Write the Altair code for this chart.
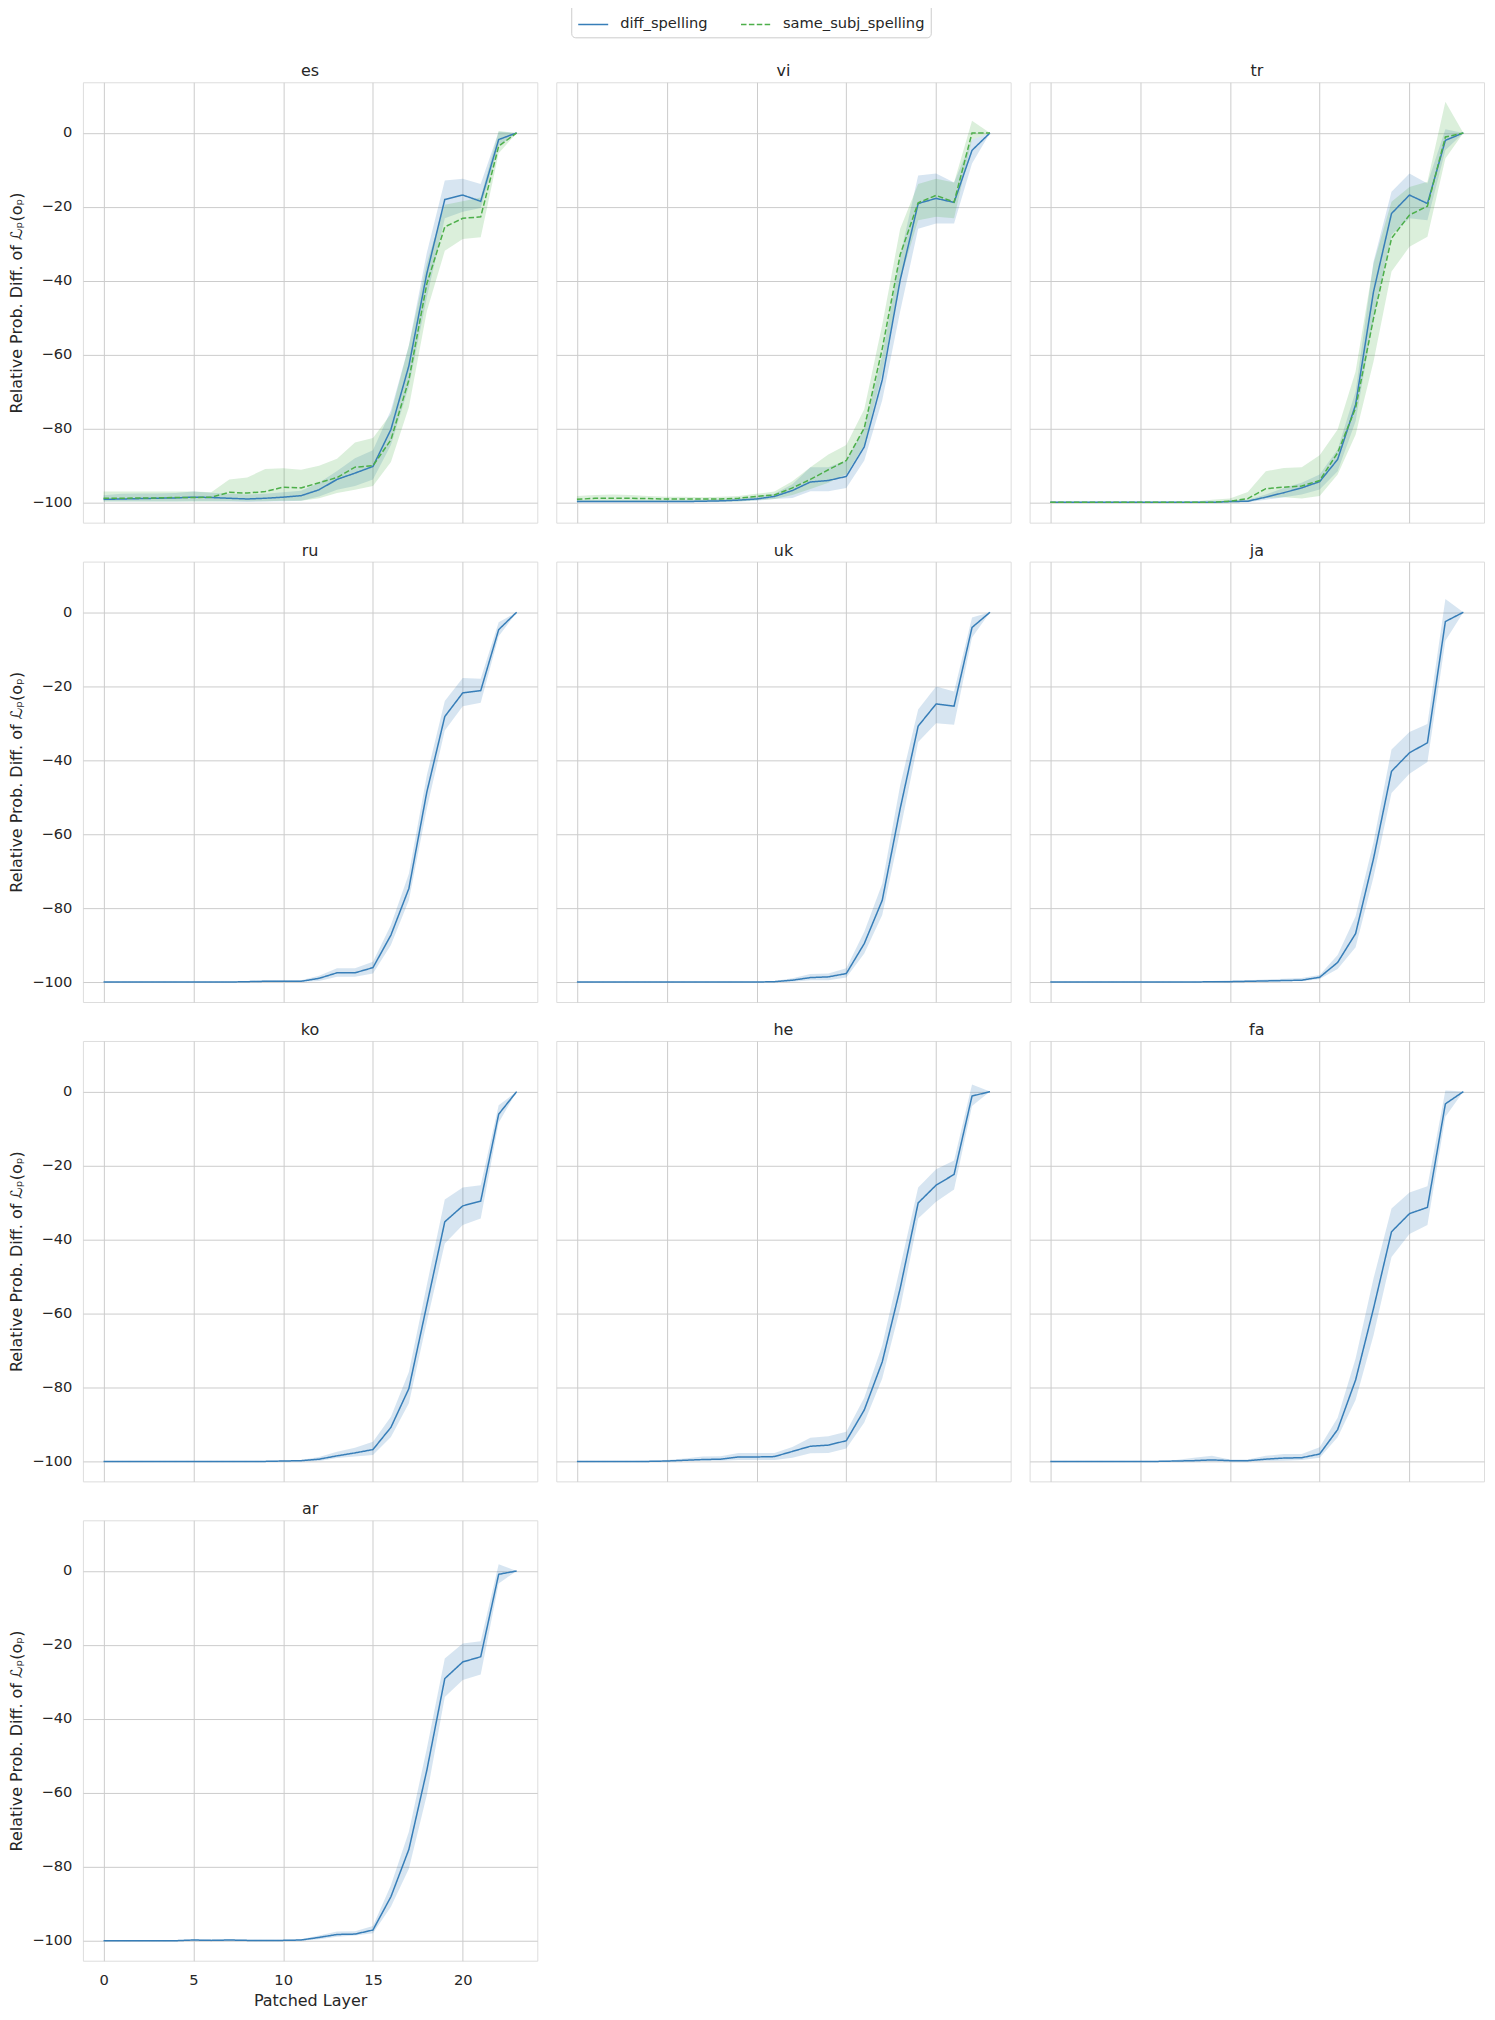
import altair as alt
import pandas as pd

LAYERS = list(range(24))
LANGS = ["es", "vi", "tr", "ru", "uk", "ja", "ko", "he", "fa", "ar"]
SERIES = ["diff_spelling", "same_subj_spelling"]
COLORS = ["#377eb8", "#4daf4a"]

# ---- es ----
ES_DIFF_MEAN = [-99.1, -99.0, -98.9, -98.8, -98.7, -98.5, -98.6, -98.8, -99.0, -98.8, -98.5, -98.1, -96.5, -93.7, -92.0, -90.2, -80.2, -63.0, -38.0, -18.0, -16.8, -18.5, -1.8, 0.0]
ES_DIFF_HI = [-98.0, -97.6, -97.5, -97.5, -97.4, -97.0, -97.3, -97.6, -97.8, -97.6, -97.2, -96.8, -94.6, -91.4, -88.0, -85.8, -75.0, -57.5, -32.4, -12.9, -12.4, -13.8, 0.3, 0.0]
ES_DIFF_LO = [-99.7, -99.7, -99.7, -99.7, -99.7, -99.6, -99.6, -99.7, -99.8, -99.7, -99.6, -99.5, -98.3, -96.5, -95.5, -93.7, -84.4, -68.6, -44.5, -23.1, -21.3, -20.3, -3.6, 0.0]
ES_SAME_MEAN = [-98.8, -98.8, -98.7, -98.7, -98.6, -98.6, -98.5, -97.2, -97.4, -97.0, -95.8, -96.0, -94.6, -93.2, -90.4, -90.0, -83.0, -66.8, -40.8, -25.4, -23.1, -22.7, -3.6, 0.0]
ES_SAME_HI = [-97.0, -97.0, -97.0, -97.0, -97.0, -97.0, -97.2, -93.7, -93.2, -90.9, -90.7, -91.1, -90.0, -88.1, -83.7, -82.5, -76.0, -57.5, -35.2, -19.4, -18.5, -17.5, 0.5, 0.0]
ES_SAME_LO = [-99.7, -99.7, -99.7, -99.7, -99.7, -99.7, -99.7, -99.6, -99.6, -99.6, -99.5, -99.5, -98.8, -97.4, -96.5, -95.5, -89.0, -74.2, -48.2, -31.9, -28.7, -28.2, -5.5, 0.0]

# ---- vi ----
VI_DIFF_MEAN = [-99.7, -99.7, -99.7, -99.7, -99.7, -99.7, -99.7, -99.6, -99.5, -99.3, -99.0, -98.3, -96.7, -94.4, -94.0, -92.9, -84.9, -66.8, -39.8, -19.1, -17.7, -18.8, -4.7, 0.0]
VI_DIFF_HI = [-99.3, -99.3, -99.3, -99.3, -99.3, -99.3, -99.3, -99.2, -99.0, -98.8, -98.3, -97.6, -95.0, -90.4, -90.4, -88.6, -79.8, -60.3, -33.3, -11.5, -11.0, -13.4, -1.8, 0.0]
VI_DIFF_LO = [-99.9, -99.9, -99.9, -99.9, -99.9, -99.9, -99.9, -99.9, -99.8, -99.7, -99.5, -99.0, -98.7, -96.9, -96.9, -96.0, -88.6, -72.3, -48.2, -25.9, -24.5, -24.5, -8.3, 0.0]
VI_SAME_MEAN = [-99.1, -98.8, -98.8, -98.8, -98.9, -99.0, -99.0, -99.0, -99.0, -98.8, -98.3, -97.9, -96.0, -93.7, -91.1, -88.6, -79.8, -58.4, -32.9, -18.9, -16.9, -18.7, 0.0, 0.0]
VI_SAME_HI = [-98.2, -97.9, -97.8, -97.9, -98.2, -98.4, -98.4, -98.5, -98.4, -98.2, -97.6, -97.0, -94.2, -90.4, -87.0, -84.4, -74.7, -51.9, -25.9, -13.8, -12.4, -13.4, 3.3, 0.0]
VI_SAME_LO = [-99.9, -99.7, -99.7, -99.7, -99.7, -99.7, -99.7, -99.7, -99.7, -99.7, -99.3, -99.0, -97.9, -96.3, -94.6, -92.3, -84.4, -64.9, -39.8, -23.6, -22.7, -23.1, -1.8, 0.0]

# ---- tr ----
TR_DIFF_MEAN = [-99.9, -99.9, -99.9, -99.9, -99.9, -99.9, -99.9, -99.9, -99.9, -99.9, -99.7, -99.6, -98.5, -97.3, -96.0, -94.3, -88.3, -73.5, -42.9, -21.8, -16.8, -19.1, -2.0, 0.0]
TR_DIFF_HI = [-99.8, -99.8, -99.8, -99.8, -99.8, -99.8, -99.8, -99.8, -99.8, -99.8, -99.4, -99.2, -97.8, -96.0, -94.6, -92.4, -85.6, -69.9, -34.8, -15.9, -11.0, -13.7, 1.0, 0.0]
TR_DIFF_LO = [-100.0, -100.0, -100.0, -100.0, -100.0, -100.0, -100.0, -100.0, -100.0, -100.0, -99.9, -99.9, -99.2, -98.5, -97.8, -96.4, -91.5, -78.0, -50.1, -27.6, -23.1, -23.6, -4.7, 0.0]
TR_SAME_MEAN = [-99.9, -99.9, -99.9, -99.9, -99.9, -99.9, -99.9, -99.9, -99.9, -99.9, -99.6, -98.9, -96.2, -95.8, -95.5, -94.0, -86.5, -74.4, -50.1, -28.5, -22.2, -19.8, -1.1, 0.0]
TR_SAME_HI = [-99.7, -99.7, -99.7, -99.7, -99.7, -99.7, -99.7, -99.7, -99.7, -99.2, -98.9, -97.1, -91.5, -90.6, -90.4, -87.2, -80.2, -64.5, -35.3, -18.6, -14.6, -13.2, 8.4, 0.0]
TR_SAME_LO = [-100.0, -100.0, -100.0, -100.0, -100.0, -100.0, -100.0, -100.0, -100.0, -100.0, -100.0, -99.8, -98.7, -98.5, -98.9, -98.2, -92.4, -81.6, -61.8, -37.5, -30.8, -28.1, -6.9, 0.0]

# ---- ru ----
RU_DIFF_MEAN = [-100.0, -100.0, -100.0, -100.0, -100.0, -100.0, -100.0, -100.0, -99.9, -99.8, -99.8, -99.8, -99.0, -97.5, -97.5, -96.1, -87.3, -74.7, -48.6, -28.2, -21.8, -21.2, -4.7, 0.0]
RU_DIFF_HI = [-99.9, -99.9, -99.9, -99.9, -99.9, -99.9, -99.9, -99.9, -99.7, -99.5, -99.5, -99.5, -98.3, -96.3, -96.3, -94.5, -84.6, -70.7, -44.1, -24.0, -17.8, -18.0, -2.7, 0.0]
RU_DIFF_LO = [-100.0, -100.0, -100.0, -100.0, -100.0, -100.0, -100.0, -100.0, -100.0, -100.0, -100.0, -100.0, -99.7, -98.6, -98.6, -97.7, -90.0, -77.9, -53.1, -32.0, -25.4, -24.5, -6.5, 0.0]

# ---- uk ----
UK_DIFF_MEAN = [-100.0, -100.0, -100.0, -100.0, -100.0, -100.0, -100.0, -100.0, -100.0, -100.0, -100.0, -99.9, -99.5, -98.8, -98.6, -97.7, -89.6, -77.9, -53.1, -30.8, -24.8, -25.4, -4.1, 0.0]
UK_DIFF_HI = [-99.9, -99.9, -99.9, -99.9, -99.9, -99.9, -99.9, -99.9, -99.9, -99.9, -99.9, -99.7, -99.0, -97.8, -97.7, -96.3, -86.4, -73.4, -46.8, -26.3, -20.1, -21.4, -1.4, 0.0]
UK_DIFF_LO = [-100.0, -100.0, -100.0, -100.0, -100.0, -100.0, -100.0, -100.0, -100.0, -100.0, -100.0, -100.0, -99.9, -99.5, -99.5, -98.8, -92.3, -81.9, -59.0, -35.1, -30.0, -30.4, -6.8, 0.0]

# ---- ja ----
JA_DIFF_MEAN = [-100.0, -100.0, -100.0, -100.0, -100.0, -100.0, -100.0, -100.0, -100.0, -99.9, -99.9, -99.8, -99.7, -99.6, -99.5, -98.7, -94.7, -86.9, -66.6, -43.0, -38.0, -35.3, -2.5, 0.0]
JA_DIFF_HI = [-99.9, -99.9, -99.9, -99.9, -99.9, -99.9, -99.9, -99.9, -99.9, -99.7, -99.6, -99.5, -99.3, -99.1, -98.9, -98.1, -92.7, -82.2, -62.1, -37.1, -32.4, -30.2, 3.6, 0.0]
JA_DIFF_LO = [-100.0, -100.0, -100.0, -100.0, -100.0, -100.0, -100.0, -100.0, -100.0, -100.0, -100.0, -100.0, -99.9, -99.8, -99.8, -99.2, -96.5, -90.6, -71.6, -48.9, -43.7, -40.5, -7.7, 0.0]

# ---- ko ----
KO_DIFF_MEAN = [-100.0, -100.0, -100.0, -100.0, -100.0, -100.0, -100.0, -100.0, -100.0, -100.0, -99.9, -99.8, -99.4, -98.5, -97.7, -96.8, -90.8, -80.3, -57.7, -35.2, -30.9, -29.6, -6.1, 0.0]
KO_DIFF_HI = [-99.9, -99.9, -99.9, -99.9, -99.9, -99.9, -99.9, -99.9, -99.9, -99.9, -99.7, -99.6, -98.8, -97.4, -96.3, -94.7, -87.9, -75.8, -52.3, -29.2, -25.9, -25.3, -3.7, 0.0]
KO_DIFF_LO = [-100.0, -100.0, -100.0, -100.0, -100.0, -100.0, -100.0, -100.0, -100.0, -100.0, -100.0, -100.0, -99.9, -99.1, -98.7, -98.3, -93.4, -84.3, -62.3, -41.1, -36.1, -34.3, -8.4, 0.0]

# ---- he ----
HE_DIFF_MEAN = [-100.0, -100.0, -100.0, -100.0, -100.0, -99.9, -99.7, -99.5, -99.4, -98.8, -98.8, -98.7, -97.3, -95.9, -95.6, -94.4, -86.1, -73.1, -53.2, -30.1, -25.3, -22.4, -1.2, 0.0]
HE_DIFF_HI = [-99.9, -99.9, -99.9, -99.9, -99.8, -99.6, -99.2, -98.7, -98.6, -97.7, -97.7, -97.7, -96.1, -93.6, -93.2, -92.0, -82.8, -68.6, -47.4, -25.9, -21.0, -18.6, 1.9, 0.0]
HE_DIFF_LO = [-100.0, -100.0, -100.0, -100.0, -100.0, -100.0, -99.9, -99.8, -99.8, -99.6, -99.6, -99.6, -99.0, -97.8, -97.7, -96.5, -89.5, -77.6, -58.6, -34.3, -29.8, -26.5, -3.9, 0.0]

# ---- fa ----
FA_DIFF_MEAN = [-100.0, -100.0, -100.0, -100.0, -100.0, -100.0, -100.0, -99.9, -99.8, -99.6, -99.8, -99.8, -99.4, -99.1, -99.0, -98.0, -91.4, -78.0, -58.6, -37.9, -33.0, -31.3, -3.3, 0.0]
FA_DIFF_HI = [-99.9, -99.9, -99.9, -99.9, -99.9, -99.9, -99.9, -99.6, -99.0, -98.5, -99.5, -99.5, -98.5, -98.0, -98.0, -96.2, -88.2, -72.2, -50.5, -31.6, -27.3, -25.6, 0.3, 0.0]
FA_DIFF_LO = [-100.0, -100.0, -100.0, -100.0, -100.0, -100.0, -100.0, -100.0, -100.0, -100.0, -100.0, -100.0, -99.9, -99.8, -99.6, -99.0, -93.5, -83.4, -65.9, -44.7, -38.5, -36.1, -6.8, 0.0]

# ---- ar ----
AR_DIFF_MEAN = [-100.0, -100.0, -100.0, -100.0, -100.0, -99.8, -99.9, -99.8, -99.9, -99.9, -99.9, -99.8, -99.1, -98.3, -98.2, -97.1, -88.1, -75.3, -53.9, -29.1, -24.6, -23.2, -0.9, 0.0]
AR_DIFF_HI = [-99.9, -99.9, -99.9, -99.9, -99.9, -99.6, -99.7, -99.6, -99.7, -99.7, -99.7, -99.6, -98.6, -97.5, -97.4, -96.0, -85.0, -70.5, -48.0, -23.7, -19.6, -19.0, 1.8, 0.0]
AR_DIFF_LO = [-100.0, -100.0, -100.0, -100.0, -100.0, -100.0, -100.0, -100.0, -100.0, -100.0, -100.0, -100.0, -99.6, -98.9, -98.6, -98.0, -90.8, -80.5, -60.6, -34.1, -29.5, -28.0, -3.4, 0.0]

SERIES_DATA = {
    ("es", "diff_spelling"): (ES_DIFF_MEAN, ES_DIFF_LO, ES_DIFF_HI),
    ("es", "same_subj_spelling"): (ES_SAME_MEAN, ES_SAME_LO, ES_SAME_HI),
    ("vi", "diff_spelling"): (VI_DIFF_MEAN, VI_DIFF_LO, VI_DIFF_HI),
    ("vi", "same_subj_spelling"): (VI_SAME_MEAN, VI_SAME_LO, VI_SAME_HI),
    ("tr", "diff_spelling"): (TR_DIFF_MEAN, TR_DIFF_LO, TR_DIFF_HI),
    ("tr", "same_subj_spelling"): (TR_SAME_MEAN, TR_SAME_LO, TR_SAME_HI),
    ("ru", "diff_spelling"): (RU_DIFF_MEAN, RU_DIFF_LO, RU_DIFF_HI),
    ("uk", "diff_spelling"): (UK_DIFF_MEAN, UK_DIFF_LO, UK_DIFF_HI),
    ("ja", "diff_spelling"): (JA_DIFF_MEAN, JA_DIFF_LO, JA_DIFF_HI),
    ("ko", "diff_spelling"): (KO_DIFF_MEAN, KO_DIFF_LO, KO_DIFF_HI),
    ("he", "diff_spelling"): (HE_DIFF_MEAN, HE_DIFF_LO, HE_DIFF_HI),
    ("fa", "diff_spelling"): (FA_DIFF_MEAN, FA_DIFF_LO, FA_DIFF_HI),
    ("ar", "diff_spelling"): (AR_DIFF_MEAN, AR_DIFF_LO, AR_DIFF_HI),
}

rows = []
for (lang, series), (m, lo, hi) in SERIES_DATA.items():
    for i, layer in enumerate(LAYERS):
        rows.append({"lang": lang, "series": series, "layer": layer,
                     "mean": m[i], "lo": lo[i], "hi": hi[i]})
df = pd.DataFrame(rows)

FONT = "DejaVu Sans"
TXT = "#262626"
W, H = 455, 441
YTITLE = "Relative Prob. Diff. of ℒₚ(oₚ)"
TICK_FS = 14.67
TITLE_FS = 16

color_scale = alt.Scale(domain=SERIES, range=COLORS)
dash_scale = alt.Scale(domain=SERIES, range=[[1, 0], [5.5, 2.4]])
x_scale = alt.Scale(domain=[-1.15, 24.15], nice=False, zero=False)
y_scale = alt.Scale(domain=[-105.4, 13.7], nice=False, zero=False)

legend = alt.Legend(
    title=None, orient="none", legendX=15, legendY=-80, direction="horizontal",
    symbolType="stroke", symbolSize=900, symbolStrokeWidth=1.5,
    labelFont=FONT, labelFontSize=TICK_FS, labelColor=TXT, labelOffset=11,
    columnPadding=30, padding=6, strokeColor="#cccccc", cornerRadius=4,
    fillColor="white",
)


def panel(lang, first_col, last_row, with_legend):
    xaxis = alt.Axis(values=[0, 5, 10, 15, 20], labels=last_row, ticks=False, domain=False,
                     title="Patched Layer" if last_row else None,
                     labelFont=FONT, labelFontSize=TICK_FS, labelColor=TXT, labelPadding=12,
                     titleFont=FONT, titleFontSize=TITLE_FS, titleFontWeight="normal",
                     titleColor=TXT, titlePadding=5,
                     gridColor="#cccccc", gridWidth=1)
    yaxis = alt.Axis(values=[-100, -80, -60, -40, -20, 0], labels=first_col, ticks=False, domain=False,
                     title=YTITLE if first_col else None,
                     labelFont=FONT, labelFontSize=TICK_FS, labelColor=TXT, labelPadding=11,
                     titleFont=FONT, titleFontSize=TITLE_FS, titleFontWeight="normal",
                     titleColor=TXT, titlePadding=7,
                     gridColor="#cccccc", gridWidth=1)
    lg = legend if with_legend else None
    base = alt.Chart(df).transform_filter(alt.datum.lang == lang)
    band = base.mark_area(opacity=0.2, interpolate="linear").encode(
        x=alt.X("layer:Q", scale=x_scale, axis=xaxis),
        y=alt.Y("lo:Q", scale=y_scale, axis=yaxis),
        y2="hi:Q",
        fill=alt.Fill("series:N", scale=color_scale, legend=None),
        detail="series:N",
    )
    line = base.mark_line(strokeWidth=1.5).encode(
        x=alt.X("layer:Q", scale=x_scale, axis=xaxis),
        y=alt.Y("mean:Q", scale=y_scale, axis=yaxis),
        color=alt.Color("series:N", scale=color_scale, legend=lg),
        strokeDash=alt.StrokeDash("series:N", scale=dash_scale, legend=lg),
    )
    return alt.layer(band, line).properties(
        width=W, height=H,
        title=alt.TitleParams(lang, font=FONT, fontSize=TITLE_FS, fontWeight="normal",
                              color=TXT, offset=(-77 if with_legend else 3), anchor="middle"),
    )


grid = [["es", "vi", "tr"], ["ru", "uk", "ja"], ["ko", "he", "fa"], ["ar"]]
row_charts = []
for r, langs in enumerate(grid):
    panels = [panel(lang, c == 0, r == len(grid) - 1, lang == "vi") for c, lang in enumerate(langs)]
    row_charts.append(
        alt.hconcat(*panels, spacing=17).resolve_legend(color="independent", strokeDash="independent")
    )

chart = alt.vconcat(*row_charts, spacing=18).resolve_legend(
    color="independent", strokeDash="independent"
).properties(
    padding={"top": -8, "left": 0, "right": 2, "bottom": 0}
).configure_view(
    stroke="#cccccc", strokeWidth=1.25
).configure(
    font=FONT, background="white"
)

chart.save("out.html", embed_options={"renderer": "svg", "actions": False})
